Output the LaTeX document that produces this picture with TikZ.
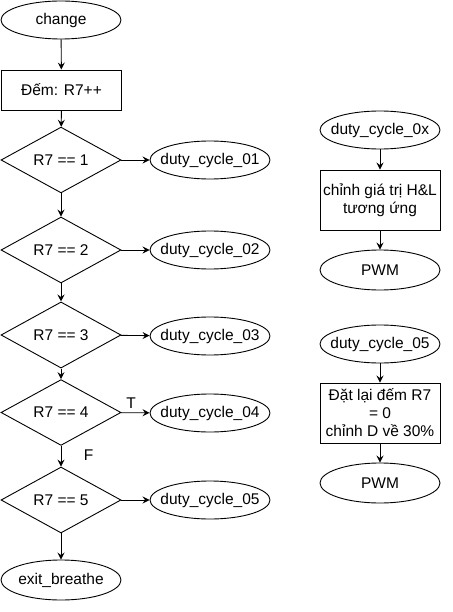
\documentclass[tikz,border=0pt]{standalone}
\usepackage{fontspec}
\setmainfont{Liberation Sans}
\usepackage{tikz}
\usetikzlibrary{arrows, arrows.meta, shapes, positioning}

\tikzset{
  term/.style={ellipse, draw, line width=0.9pt, minimum width=120pt, minimum height=38pt, inner xsep=-9pt, inner ysep=0pt},
  proc/.style={rectangle, draw, line width=0.9pt, minimum width=120pt, minimum height=40pt, inner sep=0pt, align=center},
  test/.style={diamond, draw, line width=0.9pt, minimum width=120pt, minimum height=60pt, inner sep=0pt},
  flow/.style={-{Stealth[length=7pt, width=7pt, inset=2.5pt]}, line width=0.9pt}
}

\begin{document}
\begin{tikzpicture}[x=1pt, y=-1pt, font=\fontsize{15.5}{18}\selectfont]

\useasboundingbox (0,0) rectangle (452,612);

\node[term] (change) at (61,20) {change};
\node[proc] (count) at (61.5,90) {Đếm: R7++};

\node[test] (test1) at (61,160) {R7 == 1};
\node[test] (test2) at (61,250) {R7 == 2};
\node[test, minimum height=50pt] (test3) at (61,335) {R7 == 3};
\node[test, minimum height=55pt] (test4) at (61,412.5) {R7 == 4};
\node[test] (test5) at (61,500) {R7 == 5};
\node[term, minimum height=40pt] (exit) at (61,580) {exit\_breathe};

\node[term] (duty1) at (210,160) {duty\_cycle\_01};
\node[term] (duty2) at (210,250) {duty\_cycle\_02};
\node[term] (duty3) at (210,336) {duty\_cycle\_03};
\node[term] (duty4) at (210,413) {duty\_cycle\_04};
\node[term] (duty5) at (210,500) {duty\_cycle\_05};

% right column
\node[term] (dutyx) at (380,130) {duty\_cycle\_0x};
\node[proc, minimum height=60pt] (adjust) at (380,200) {chỉnh giá trị H\&L\\tương ứng};
\node[term, minimum height=40pt] (pwm1) at (380,270) {PWM};

\node[term] (dutyr) at (380,344) {duty\_cycle\_05};
\node[proc, minimum height=60pt] (reset) at (380,413) {Đặt lại đếm R7\\= 0\\chỉnh D về 30\%};
\node[term, minimum height=40pt] (pwm2) at (380,483) {PWM};

\draw[flow] (change) -- (count);
\draw[flow] (count) -- (test1);
\draw[flow] (test1) -- (test2);
\draw[flow] (test2) -- (test3);
\draw[flow] (test3) -- (test4);
\draw[flow] (test4) -- node[right=19pt, pos=0.45] (labelF) {F} (test5);
\draw[flow] (test5) -- (exit);

\draw[flow] (test1) -- (duty1);
\draw[flow] (test2) -- (duty2);
\draw[flow] (test3) -- (duty3);
\draw[flow] (test4) -- node[above, pos=0.35] (labelT) {T} (duty4);
\draw[flow] (test5) -- (duty5);

\draw[flow] (dutyx) -- (adjust);
\draw[flow] (adjust) -- (pwm1);
\draw[flow] (dutyr) -- (reset);
\draw[flow] (reset) -- (pwm2);
\end{tikzpicture}
\end{document}
